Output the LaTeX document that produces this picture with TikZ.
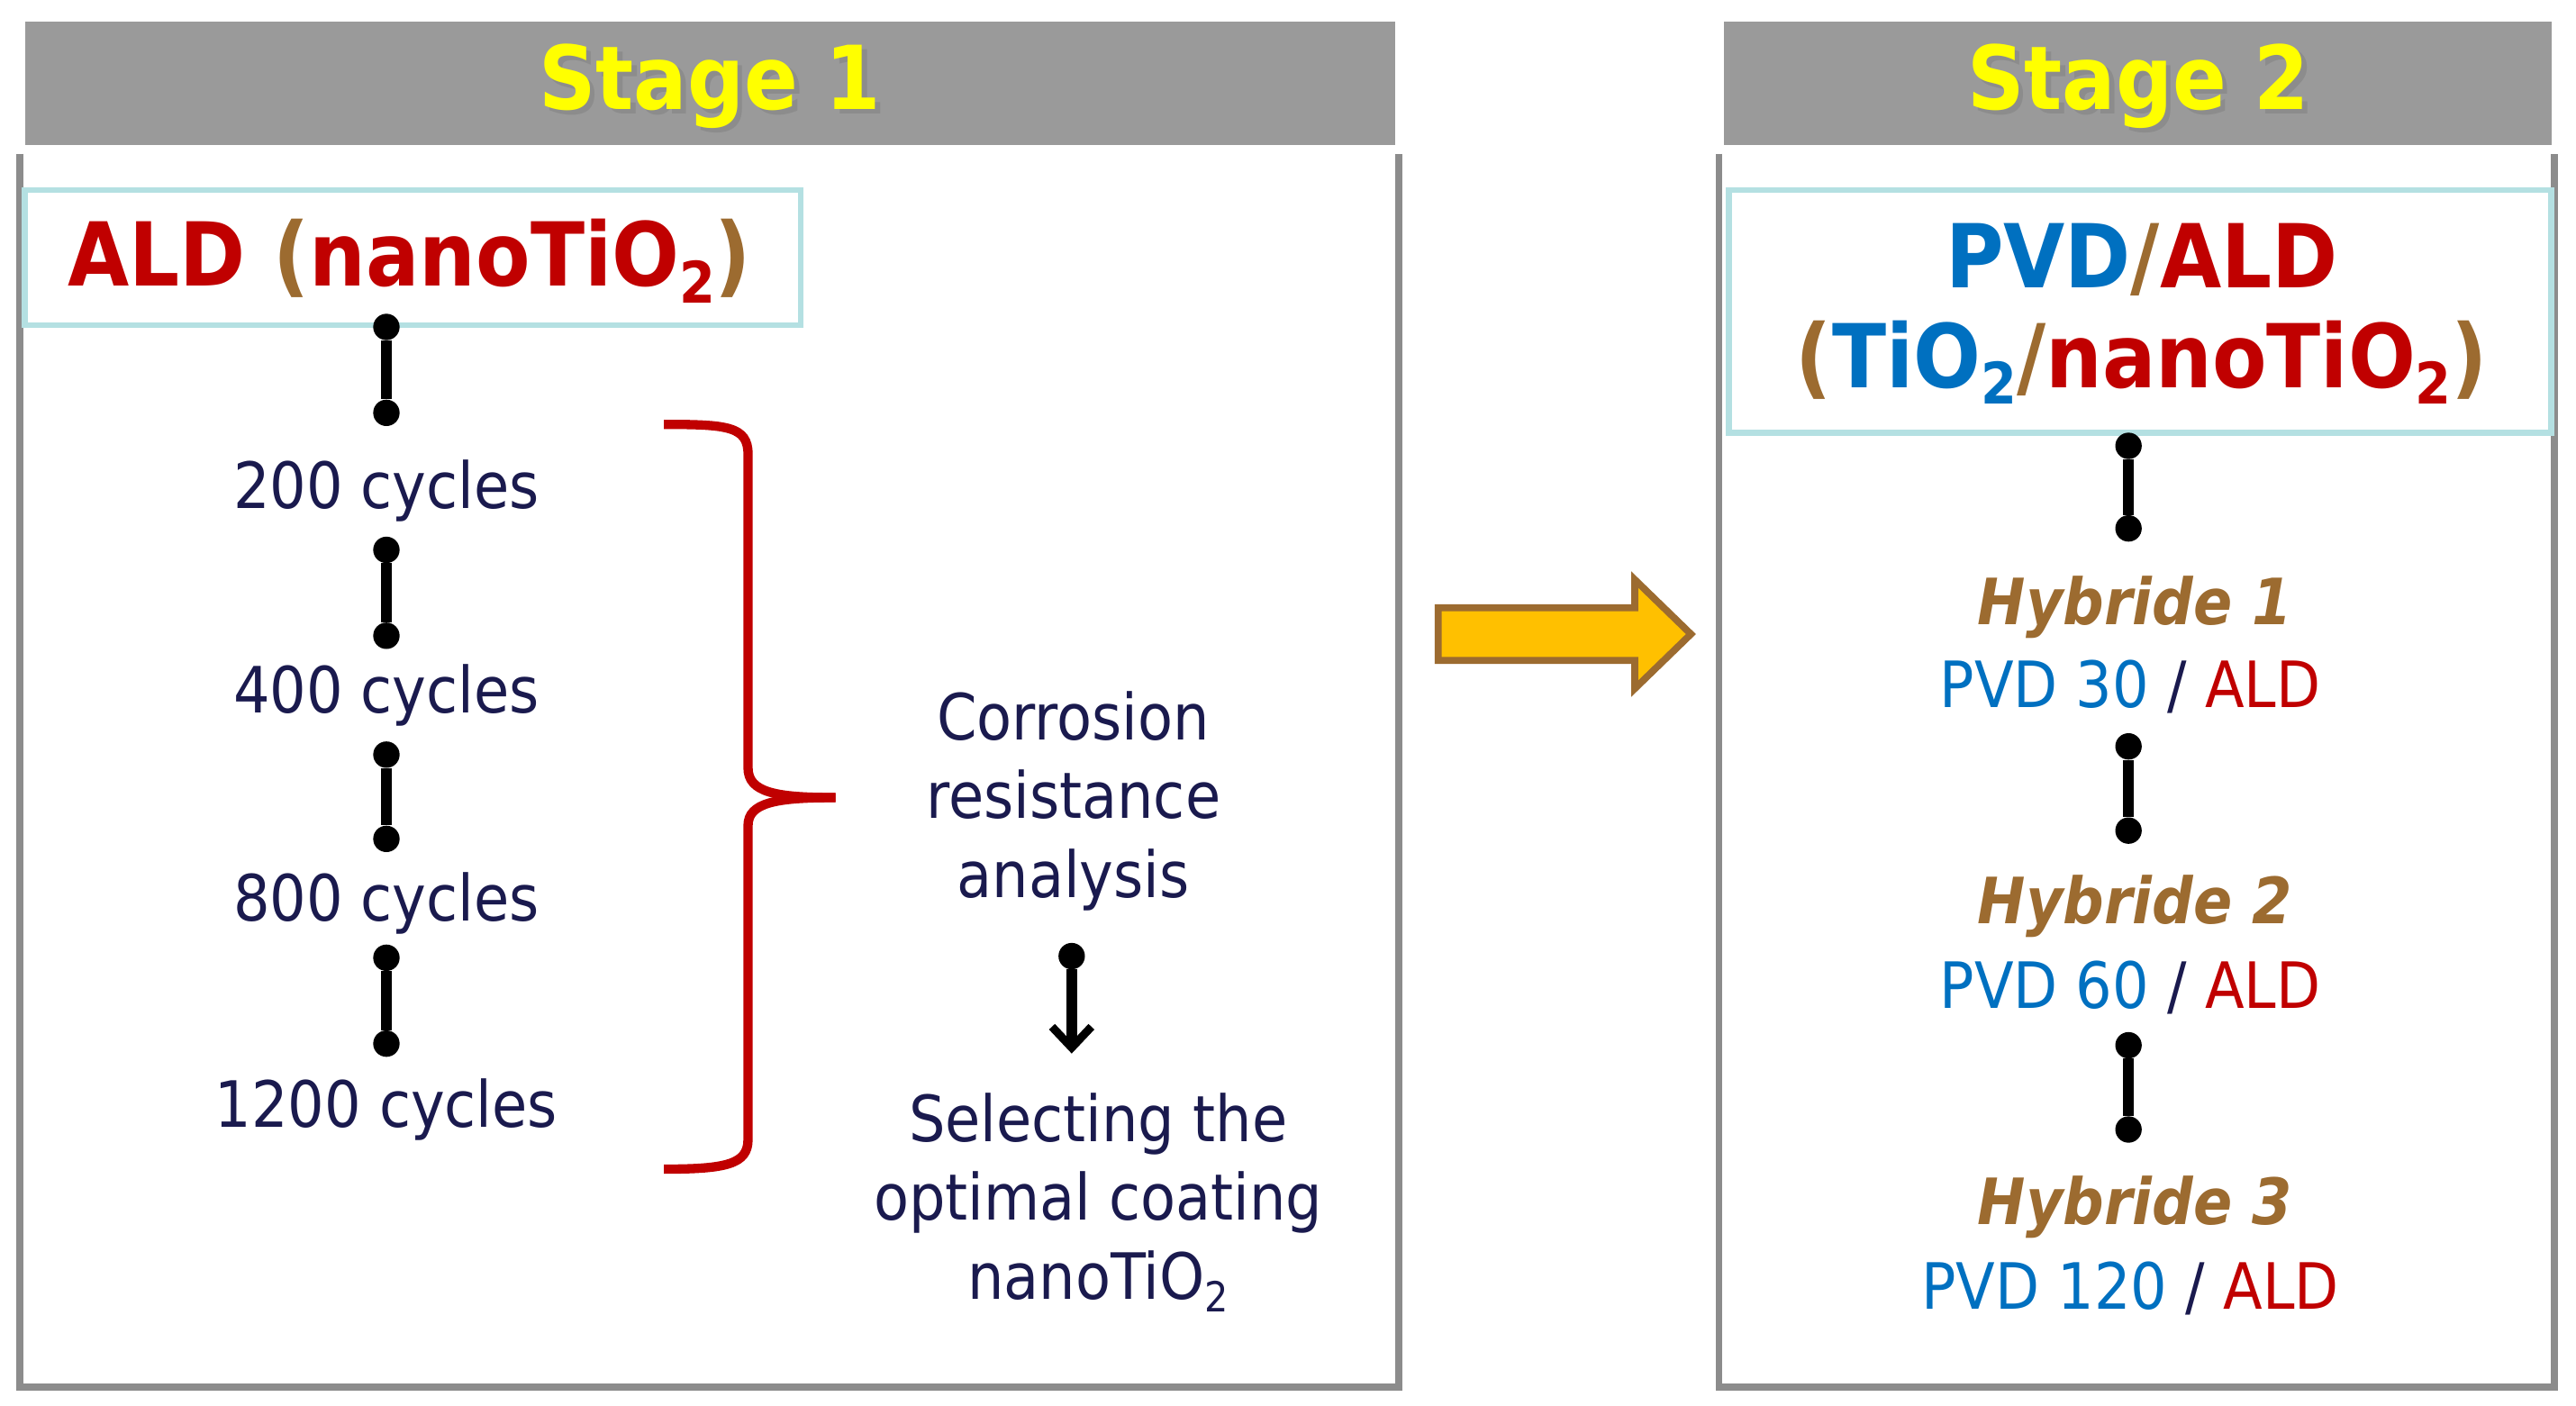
\documentclass[tikz,border=0pt]{standalone}
\usepackage{fontspec}
\setmainfont{DejaVu Sans Condensed}
\usetikzlibrary{arrows.meta}
\definecolor{navy}{HTML}{1A1A4E}
\definecolor{cred}{HTML}{C00000}
\definecolor{cblue}{HTML}{0070C0}
\definecolor{cbrown}{HTML}{9C6B30}
\definecolor{hdr}{HTML}{9A9A9A}
\definecolor{frame}{HTML}{8C8C8C}
\definecolor{cyanb}{HTML}{B4E0E2}
\definecolor{yel}{HTML}{FFFF00}
\definecolor{gold}{HTML}{FFC000}
\newcommand{\lowtwo}{\raisebox{-0.35ex}{\scalebox{0.65}{2}}}
\begin{document}
\begin{tikzpicture}[x=0.05cm,y=-0.05cm,
  big/.style={font=\fontsize{76}{92}\selectfont\bfseries},
  txt/.style={font=\fontsize{55}{68}\selectfont, text=navy, align=center},
  hyb/.style={font=\fontsize{55}{68}\selectfont\bfseries\itshape, text=cbrown},
  link/.style={line width=9pt, black},
  dot/.style={circle, fill=black, inner sep=0pt, minimum size=0.8cm},
  stagetxt/.style={font=\fontsize{76}{90}\selectfont\bfseries, text=yel}]
\useasboundingbox (0,0) rectangle (1560,851);
% headers
\fill[hdr] (15,13) rectangle (845,88);
\fill[hdr] (1044,13) rectangle (1545,88);
\node[stagetxt, text=black!45] at (433,55) {Stage 1};
\node[stagetxt] (s1) at (430,52) {Stage 1};
\node[stagetxt, text=black!45] at (1298,55) {Stage 2};
\node[stagetxt] (s2) at (1295,52) {Stage 2};
% frames
\draw[frame, line width=6pt] (12,93) -- (12,840) -- (847,840) -- (847,93);
\draw[frame, line width=6pt] (1041,93) -- (1041,840) -- (1547,840) -- (1547,93);
% title boxes
\draw[cyanb, line width=5pt] (15,115) rectangle (485,197);
\node[big, text=cred] (ald) at (248,158) {ALD {\color{cbrown}(}nanoTiO\lowtwo{\color{cbrown})}};
\draw[cyanb, line width=5pt] (1047,115) rectangle (1545,262);
\node[big, align=center, text=cred] (pvd) at (1297,190) {{\color{cblue}PVD}{\color{cbrown}/}ALD\\[-6pt]{\color{cbrown}(}{\color{cblue}TiO\lowtwo}{\color{cbrown}/}nanoTiO\lowtwo{\color{cbrown})}};
% cycles
\node[txt] (c200) at (234,297) {200 cycles};
\node[txt] (c400) at (234,421) {400 cycles};
\node[txt] (c800) at (234,547) {800 cycles};
\node[txt] (c1200) at (234,672) {1200 cycles};
\foreach \n/\a/\b in {a/198/250, b/333/385, c/457/508, d/580/632}{
  \node[dot] (t\n) at (234,\a) {};
  \node[dot] (u\n) at (234,\b) {};
  \draw[link] (t\n) -- (u\n);
}
% bracket
\draw[cred, line width=8pt] (402,257) .. controls (440,257) and (453,258) .. (453,275)
  -- (453,465) .. controls (453,480) and (470,483) .. (506,483);
\draw[cred, line width=8pt] (506,483) .. controls (470,483) and (453,486) .. (453,500)
  -- (453,690) .. controls (453,705) and (440,708) .. (402,708);
% corrosion
\node[txt] (corr) at (650,485) {Corrosion\\resistance\\analysis};
\node[txt] (sel) at (665,728) {Selecting the\\optimal coating\\nanoTiO\lowtwo};
\node[dot] (ca) at (649,579) {};
\coordinate (cb) at (649,638);
\draw[link, -{Straight Barb[length=18pt,width=34pt,line width=7pt]}] (ca) -- (cb);
% big arrow
\draw[fill=gold, draw=cbrown, line width=6pt, line join=miter]
  (871,368) -- (990,368) -- (990,351) -- (1024,384) -- (990,417) -- (990,400) -- (871,400) -- cycle;
% stage 2 items
\foreach \n/\a/\b in {a/270/320, b/452/503, c/633/684}{
  \node[dot] (v\n) at (1289,\a) {};
  \node[dot] (w\n) at (1289,\b) {};
  \draw[link] (v\n) -- (w\n);
}
\node[hyb] (h1) at (1293,368) {Hybride 1};
\node[txt, text=cblue] (p1) at (1290,416) {PVD 30 {\color{navy}/} {\color{cred}ALD}};
\node[hyb] (h2) at (1293,549) {Hybride 2};
\node[txt, text=cblue] (p2) at (1290,598) {PVD 60 {\color{navy}/} {\color{cred}ALD}};
\node[hyb] (h3) at (1293,731) {Hybride 3};
\node[txt, text=cblue] (p3) at (1290,780) {PVD 120 {\color{navy}/} {\color{cred}ALD}};
\end{tikzpicture}
\end{document}
